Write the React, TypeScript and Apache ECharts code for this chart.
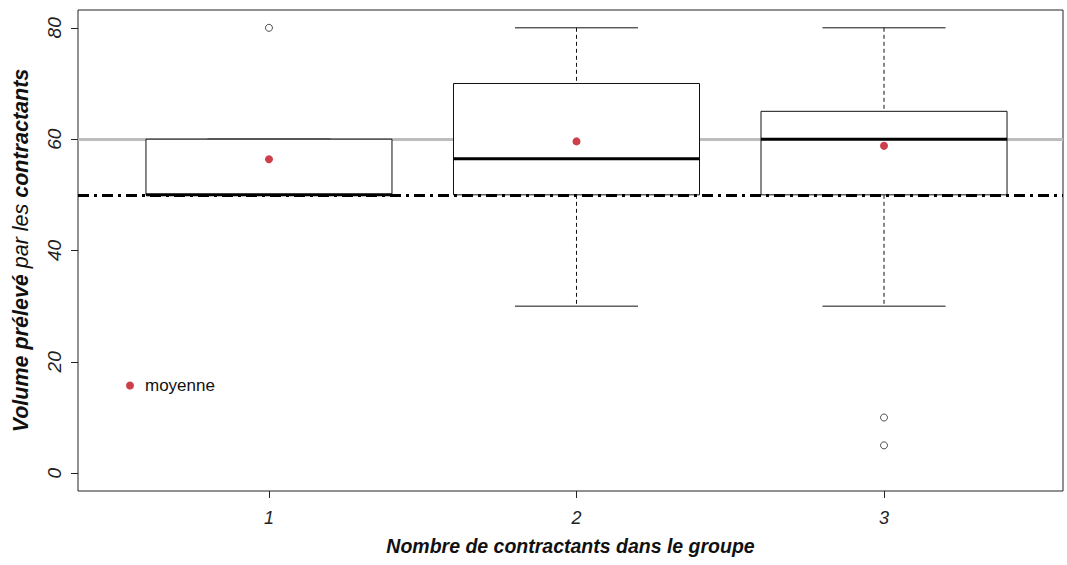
import React, { useEffect, useRef } from "react";
import * as echarts from "echarts";

// ---- data ----
const groups = [1, 2, 3];
const groupLabels = ["1", "2", "3"];
const whiskerLow = [50, 30, 30];
const q1 = [50, 50, 50];
const medians = [50, 56.5, 60];
const q3 = [60, 70, 65];
const whiskerHigh = [60, 80, 80];
const means = [56.4, 59.6, 58.8];
const outlierGroup = [1, 3, 3];
const outlierValue = [80, 10, 5];
const yTicks = [0, 20, 40, 60, 80];
const refGray = 60;
const refDash = 50;
const legendLabel = "moyenne";
const xTitle = "Nombre de contractants dans le groupe";
const yTitleParts = ["Volume prélevé ", "par les", " contractants"];

const FONT = "'Liberation Sans', Arial, sans-serif";

export default function App() {
  const ref = useRef<HTMLDivElement>(null);
  useEffect(() => {
    if (!ref.current) return;
    const chart = echarts.init(ref.current, undefined, { renderer: "svg" });
    const boxData = groups.map((g, i) => [g, whiskerLow[i], q1[i], medians[i], q3[i], whiskerHigh[i]]);
    const meanData = groups.map((g, i) => [g, means[i]]);
    const outData = outlierGroup.map((g, i) => [g, outlierValue[i]]);

    const titleStyle = {
      fontFamily: FONT,
      fontSize: 19.5,
      fontStyle: "italic",
      color: "#111",
    };
    const yTitleStyle = { ...titleStyle, fontSize: 21.5 };

    const option: any = {
      animation: false,
      textStyle: { fontFamily: FONT },
      grid: {
        left: 78,
        top: 10,
        right: 4,
        bottom: 74,
        show: true,
        borderColor: "#222",
        borderWidth: 1,
        backgroundColor: "transparent",
      },
      legend: {
        data: [legendLabel],
        left: 121,
        top: 372,
        icon: "circle",
        itemWidth: 20,
        itemHeight: 8,
        textStyle: { fontFamily: FONT, fontSize: 17, color: "#111" },
        selectedMode: false,
      },
      xAxis: {
        type: "value",
        min: 0.379,
        max: 3.582,
        splitLine: { show: false },
        axisLine: { show: false, onZero: false },
        axisTick: {
          show: true,
          customValues: groups,
          length: 7,
          lineStyle: { color: "#222", width: 1 },
        },
        axisLabel: {
          customValues: groups,
          formatter: (v: number) => groupLabels[groups.indexOf(v)] ?? "",
          fontStyle: "italic",
          fontSize: 18,
          color: "#222",
          fontFamily: FONT,
          margin: 18,
        },
        name: xTitle,
        nameLocation: "middle",
        nameGap: 45,
        nameTextStyle: { ...titleStyle, fontWeight: "bold" },
      },
      yAxis: {
        type: "value",
        min: -3.2,
        max: 83.2,
        splitLine: { show: false },
        axisLine: { show: false, onZero: false },
        axisTick: {
          show: true,
          customValues: yTicks,
          length: 7,
          lineStyle: { color: "#222", width: 1 },
        },
        axisLabel: {
          customValues: yTicks,
          rotate: 90,
          fontStyle: "italic",
          fontSize: 19,
          color: "#222",
          fontFamily: FONT,
          margin: 14,
        },
        name:
          "{b|" + yTitleParts[0] + "}{n|" + yTitleParts[1] + "}{b|" + yTitleParts[2] + "}",
        nameLocation: "middle",
        nameRotate: 90,
        nameGap: 46,
        nameTextStyle: {
          ...yTitleStyle,
          rich: {
            b: { ...yTitleStyle, fontWeight: "bold" },
            n: { ...yTitleStyle, fontWeight: "normal" },
          },
        },
      },
      series: [
        {
          name: "refGray",
          type: "line",
          data: [],
          z: 1,
          silent: true,
          markLine: {
            z: 1,
            silent: true,
            symbol: "none",
            label: { show: false },
            lineStyle: { color: "#bdbdbd", width: 3, type: "solid" },
            data: [{ yAxis: refGray }],
          },
        },
        {
          name: "boxes",
          type: "custom",
          z: 2,
          silent: true,
          data: boxData,
          renderItem: (params: any, api: any) => {
            const x = api.value(0);
            const lo = api.value(1);
            const a = api.value(2);
            const m = api.value(3);
            const b = api.value(4);
            const hi = api.value(5);
            const left = api.coord([x - 0.4, b])[0];
            const right = api.coord([x + 0.4, b])[0];
            const cx = api.coord([x, m])[0];
            const capL = api.coord([x - 0.2, hi])[0];
            const capR = api.coord([x + 0.2, hi])[0];
            const yLo = api.coord([x, lo])[1];
            const yHi = api.coord([x, hi])[1];
            const yA = api.coord([x, a])[1];
            const yB = api.coord([x, b])[1];
            const yM = api.coord([x, m])[1];
            const thin = { stroke: "#111", lineWidth: 1, fill: "none" };
            return {
              type: "group",
              children: [
                { type: "line", shape: { x1: cx, y1: yHi, x2: cx, y2: yB }, style: { ...thin, lineDash: [4, 3] } },
                { type: "line", shape: { x1: cx, y1: yA, x2: cx, y2: yLo }, style: { ...thin, lineDash: [4, 3] } },
                { type: "line", shape: { x1: capL, y1: yHi, x2: capR, y2: yHi }, style: thin },
                { type: "line", shape: { x1: capL, y1: yLo, x2: capR, y2: yLo }, style: thin },
                {
                  type: "rect",
                  shape: { x: left, y: yB, width: right - left, height: yA - yB },
                  style: { fill: "#fff", stroke: "#111", lineWidth: 1 },
                },
                { type: "line", shape: { x1: left, y1: yM, x2: right, y2: yM }, style: { stroke: "#000", lineWidth: 3 } },
              ],
            };
          },
        },
        {
          name: "refDash",
          type: "line",
          data: [],
          z: 3,
          silent: true,
          markLine: {
            z: 3,
            silent: true,
            symbol: "none",
            label: { show: false },
            lineStyle: { color: "#000", width: 3, type: [11, 5, 3, 5] },
            data: [{ yAxis: refDash }],
          },
        },
        {
          name: "outliers",
          type: "scatter",
          z: 4,
          silent: true,
          symbol: "circle",
          symbolSize: 7,
          itemStyle: { color: "#fff", borderColor: "#222", borderWidth: 1 },
          data: outData,
        },
        {
          name: legendLabel,
          type: "scatter",
          z: 5,
          silent: true,
          symbol: "circle",
          symbolSize: 8,
          itemStyle: { color: "#c0101e" },
          data: meanData,
        },
      ],
    };
    chart.setOption(option);
    return () => chart.dispose();
  }, []);

  return (
    <div
      ref={ref}
      style={{ position: "fixed", left: 0, top: 0, width: 1067, height: 565, background: "#fff" }}
    />
  );
}
